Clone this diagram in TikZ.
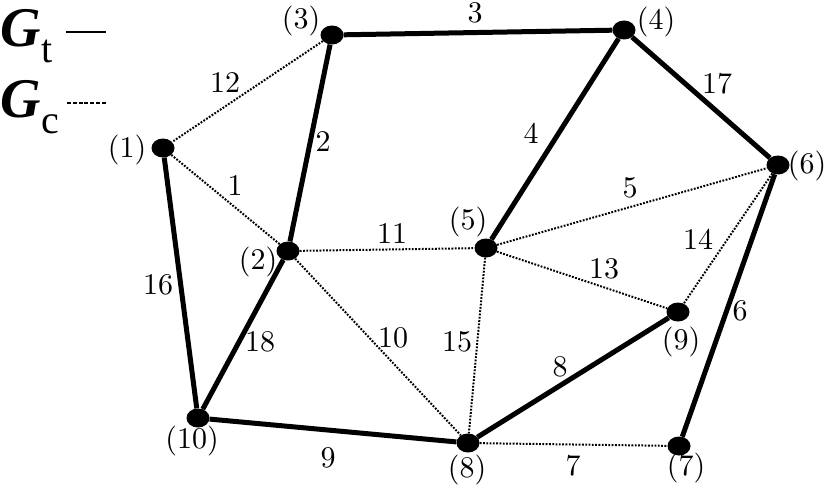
\documentclass[tikz,border=0pt]{standalone}
\usepackage{fontspec}
\newfontfamily\legbi{LiberationSerif-BoldItalic.ttf}
\newfontfamily\legrm{LiberationSerif-Regular.ttf}
\newfontfamily\labfont{lmroman10-regular.otf}
\usetikzlibrary{shapes.geometric}
\begin{document}
\begin{tikzpicture}[x=1pt,y=-1pt,
  vtx/.style={fill=black,ellipse,inner sep=0pt,minimum width=23pt,minimum height=19pt},
  tedge/.style={line width=5pt},
  cedge/.style={line width=2pt,dash pattern=on 1.8pt off 1.5pt},
  lab/.style={font=\labfont\fontsize{30}{34}\selectfont,inner sep=0pt},
  elab/.style={font=\labfont\fontsize{30}{34}\selectfont,inner sep=0pt},
  legG/.style={inner sep=0pt,anchor=base west,font=\legbi\fontsize{56}{60}\selectfont},
  legS/.style={inner sep=0pt,anchor=base west,font=\legrm\fontsize{40}{44}\selectfont}]
\useasboundingbox (0,0) rectangle (827,495);
% vertices
\node[vtx] (v1) at (163,148) {};
\node[vtx] (v2) at (288,251) {};
\node[vtx] (v3) at (332,35) {};
\node[vtx] (v4) at (624,30) {};
\node[vtx] (v5) at (486,248) {};
\node[vtx] (v6) at (778,165) {};
\node[vtx] (v7) at (679,446) {};
\node[vtx] (v8) at (468,443) {};
\node[vtx] (v9) at (678,312) {};
\node[vtx] (v10) at (198,418) {};
% vertex labels
\node[lab] (l1) at (127,150) {(1)};
\node[lab] (l2) at (258,262) {(2)};
\node[lab] (l3) at (301,21) {(3)};
\node[lab] (l4) at (656,22) {(4)};
\node[lab] (l5) at (468,222) {(5)};
\node[lab] (l6) at (807,166) {(6)};
\node[lab] (l7) at (686,468) {(7)};
\node[lab] (l8) at (467,470) {(8)};
\node[lab] (l9) at (681,342) {(9)};
\node[lab] (l10) at (192,441) {(10)};
% G_c edges
\draw[cedge] (v3) -- (v1);
\draw[cedge] (v1) -- (v2);
\draw[cedge] (v2) -- (v5);
\draw[cedge] (v5) -- (v6);
\draw[cedge] (v6) -- (v9);
\draw[cedge] (v5) -- (v9);
\draw[cedge] (v2) -- (v8);
\draw[cedge] (v5) -- (v8);
\draw[cedge] (v8) -- (v7);
% G_t edges
\draw[tedge] (v3) -- (v4);
\draw[tedge] (v4) -- (v5);
\draw[tedge] (v3) -- (v2);
\draw[tedge] (v4) -- (v6);
\draw[tedge] (v6) -- (v7);
\draw[tedge] (v1) -- (v10);
\draw[tedge] (v2) -- (v10);
\draw[tedge] (v10) -- (v8);
\draw[tedge] (v8) -- (v9);
% edge labels
\node[elab] (e3) at (475,13) {3};
\node[elab] (e12) at (225,83) {12};
\node[elab] (e2) at (323,142) {2};
\node[elab] (e4) at (531,133) {4};
\node[elab] (e17) at (717,84) {17};
\node[elab] (e1) at (235,186) {1};
\node[elab] (e5) at (630,188) {5};
\node[elab] (e14) at (698,239) {14};
\node[elab] (e11) at (392,234) {11};
\node[elab] (e13) at (604,269) {13};
\node[elab] (e16) at (158,285) {16};
\node[elab] (e18) at (260,342) {18};
\node[elab] (e10) at (393,338) {10};
\node[elab] (e15) at (457,342) {15};
\node[elab] (e8) at (560,367) {8};
\node[elab] (e6) at (740,311) {6};
\node[elab] (e9) at (328,458) {9};
\node[elab] (e7) at (573,466) {7};
% legend
\node[legG] (gt) at (0,47) {G};
\node[legS] (st) at (gt.base east) [yshift=-16pt] {t};
\node[legG] (gc) at (0,117) {G};
\node[legS] (sc) at (gc.base east) [yshift=-16pt] {c};
\coordinate (gta) at (66,32);
\coordinate (gtb) at (106,32);
\coordinate (gca) at (67,103);
\coordinate (gcb) at (107,103);
\draw[line width=2.6pt] (gta) -- (gtb);
\draw[line width=2.2pt,dash pattern=on 4pt off 1.8pt] (gca) -- (gcb);
\end{tikzpicture}
\end{document}
